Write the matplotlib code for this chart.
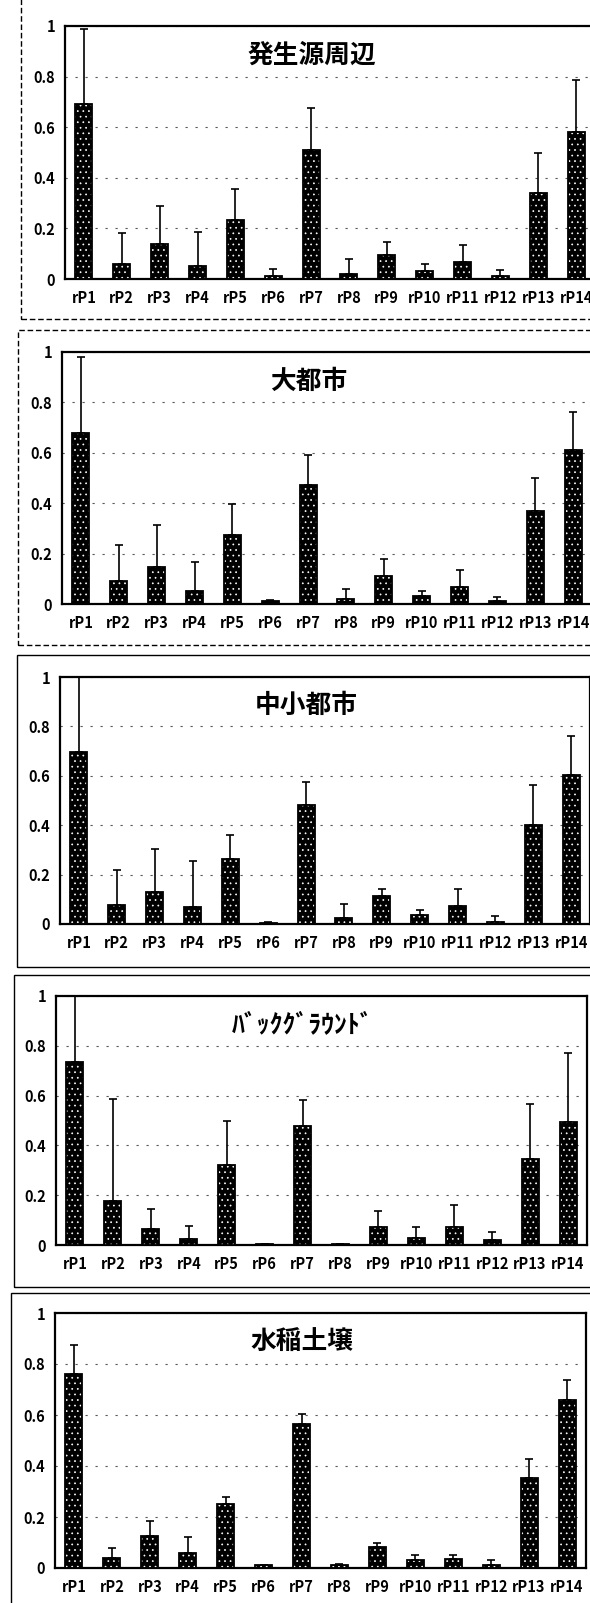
import numpy as np
import matplotlib
matplotlib.use('Agg')
import matplotlib.pyplot as plt
from matplotlib.patches import Rectangle

plt.rcParams['font.family'] = ['Noto Sans CJK JP', 'DejaVu Sans']
plt.rcParams['hatch.linewidth'] = 0.5

labels = ['rP1', 'rP2', 'rP3', 'rP4', 'rP5', 'rP6', 'rP7',
          'rP8', 'rP9', 'rP10', 'rP11', 'rP12', 'rP13', 'rP14']

titles = ['発生源周辺', '大都市', '中小都市', 'ﾊﾞｯｸｸﾞﾗｳﾝﾄﾞ', '水稲土壌']

# mean and standard deviation for each site type
mean_source = [0.69, 0.06, 0.14, 0.05, 0.235, 0.01, 0.51, 0.02, 0.093, 0.033, 0.066, 0.013, 0.34, 0.58]
sd_source = [0.30, 0.12, 0.15, 0.135, 0.12, 0.03, 0.165, 0.06, 0.053, 0.026, 0.07, 0.021, 0.16, 0.205]

mean_big = [0.68, 0.09, 0.148, 0.05, 0.274, 0.01, 0.471, 0.021, 0.11, 0.03, 0.067, 0.011, 0.368, 0.61]
sd_big = [0.30, 0.145, 0.165, 0.115, 0.123, 0.005, 0.122, 0.037, 0.07, 0.022, 0.068, 0.017, 0.132, 0.151]

mean_small = [0.698, 0.075, 0.13, 0.069, 0.262, 0.005, 0.481, 0.025, 0.112, 0.035, 0.073, 0.01, 0.402, 0.605]
sd_small = [0.31, 0.143, 0.174, 0.188, 0.098, 0.003, 0.093, 0.054, 0.03, 0.02, 0.069, 0.022, 0.161, 0.158]

mean_bg = [0.736, 0.178, 0.063, 0.024, 0.321, 0.003, 0.478, 0.003, 0.072, 0.027, 0.072, 0.019, 0.347, 0.494]
sd_bg = [0.30, 0.407, 0.083, 0.052, 0.176, 0.0, 0.103, 0.0, 0.065, 0.045, 0.087, 0.032, 0.219, 0.278]

mean_paddy = [0.759, 0.041, 0.125, 0.058, 0.251, 0.01, 0.565, 0.013, 0.082, 0.033, 0.037, 0.013, 0.353, 0.66]
sd_paddy = [0.116, 0.039, 0.061, 0.065, 0.029, 0.002, 0.039, 0.003, 0.018, 0.018, 0.014, 0.017, 0.076, 0.076]

means = [mean_source, mean_big, mean_small, mean_bg, mean_paddy]
sds = [sd_source, sd_big, sd_small, sd_bg, sd_paddy]

W, H = 590, 1603
fig = plt.figure(figsize=(W / 100, H / 100), dpi=100)

# plot area in pixels: left, top, bottom, right
boxes = [(65, 26, 279, 595), (62, 352, 604, 592), (60, 677, 924, 590),
         (56, 996, 1245, 587), (55, 1313, 1568, 586)]
# chart frame in pixels: left, top, bottom, dashed
frames = [(21, -5, 319, True), (18, 330, 645, True), (17, 655, 967, False),
          (14, 975, 1287, False), (11, 1293, 1615, False)]

for (fl, ft, fb, dashed) in frames:
    r = Rectangle((fl / W, 1 - fb / H), 1.2, (fb - ft) / H, transform=fig.transFigure,
                  fill=False, edgecolor='black', lw=1.0,
                  linestyle=(0, (4, 2)) if dashed else '-')
    fig.add_artist(r)

x = np.arange(len(labels))
for i in range(5):
    l, t, b, r = boxes[i]
    ax = fig.add_axes([l / W, 1 - b / H, (r - l) / W, (b - t) / H])
    m = np.array(means[i])
    s = np.array(sds[i])

    ax.bar(x, m, width=0.45, color='black', edgecolor='black', lw=0, zorder=3)
    ax.bar(x, m, width=0.45, color='none', edgecolor='white', hatch='...', lw=0, zorder=4)
    ax.bar(x, m, width=0.45, fill=False, edgecolor='black', lw=1.3, zorder=5)
    ax.errorbar(x, m, yerr=[np.zeros_like(s), s], fmt='none', ecolor='black',
                elinewidth=1.2, capsize=2.7, capthick=1.2, zorder=2)

    ax.set_xlim(-0.5, 13.5)
    ax.set_ylim(0, 1)
    ax.set_yticks([0, 0.2, 0.4, 0.6, 0.8, 1])
    ax.set_yticklabels(['0', '0.2', '0.4', '0.6', '0.8', '1'], fontweight='bold', fontsize=10.5)
    ax.set_xticks(x)
    ax.set_xticklabels(labels, fontweight='bold', fontsize=10.5)
    ax.tick_params(axis='both', length=0)
    ax.tick_params(axis='x', pad=8)
    ax.tick_params(axis='y', pad=7)
    ax.yaxis.grid(True, linestyle=(0, (2, 7)), color='0.35', lw=0.8)
    ax.set_axisbelow(True)
    for sp in ax.spines.values():
        sp.set_linewidth(1.6)
        sp.set_color('black')

    ax.text(0.465, 0.885, titles[i], transform=ax.transAxes, ha='center', va='center',
            fontsize=18.5, fontweight='bold', zorder=6)

fig.savefig('out.png', dpi=100)
